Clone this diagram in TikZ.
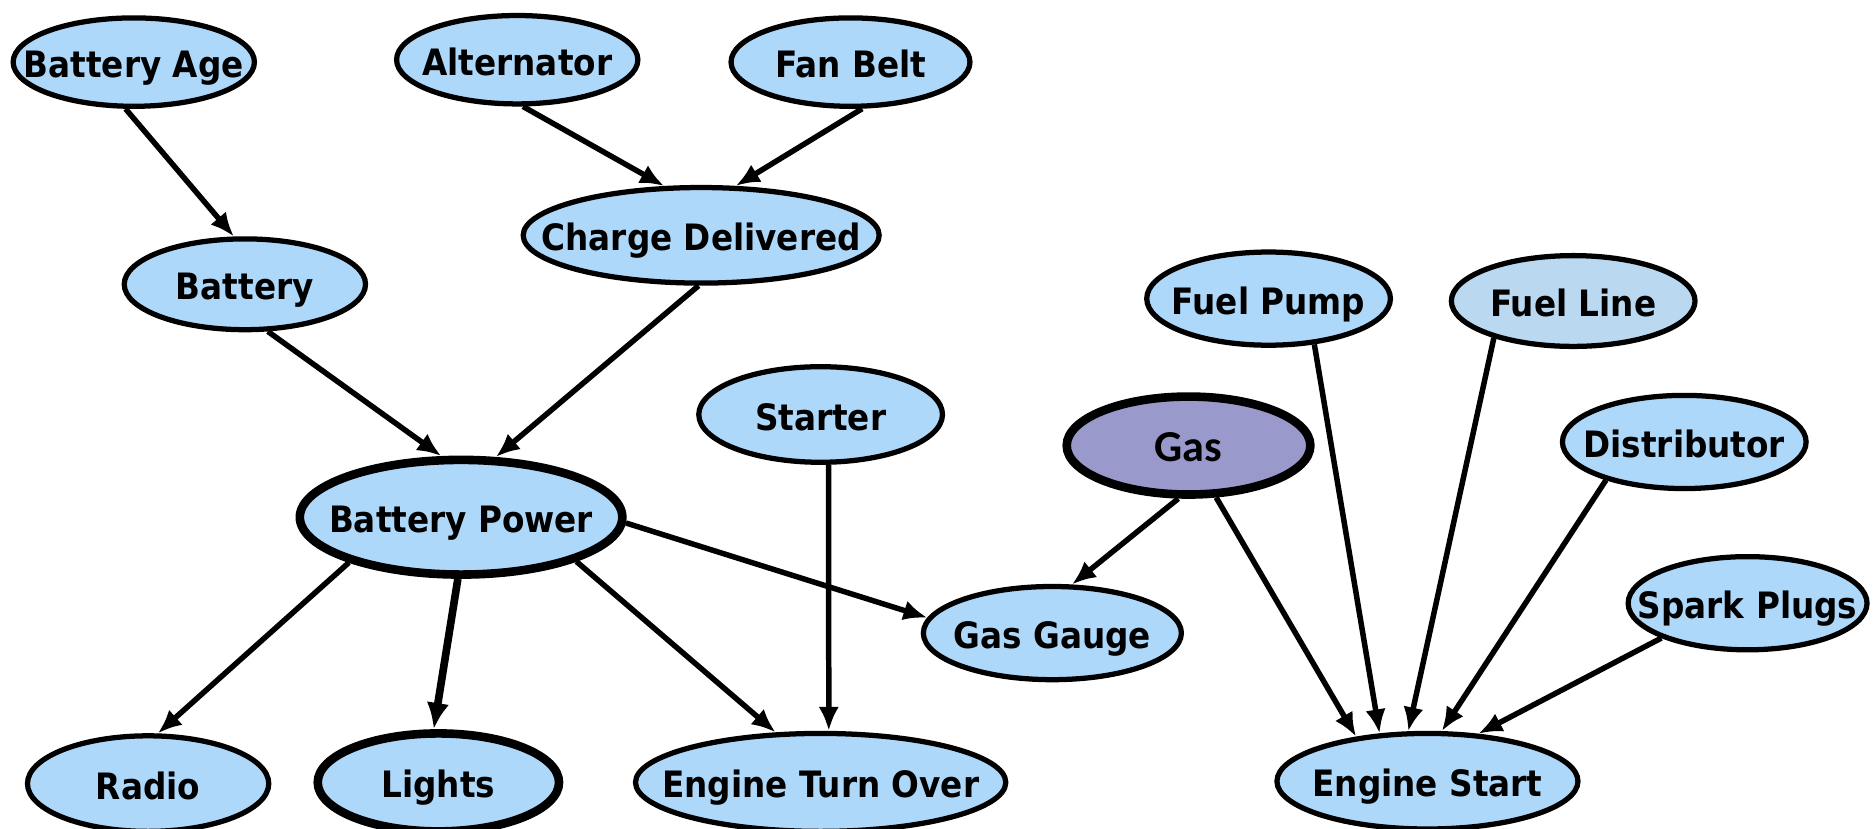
\documentclass[tikz,border=0pt]{standalone}
\usepackage{fontspec}
\usetikzlibrary{shapes.geometric,arrows.meta}
\newfontfamily\nodefont{DejaVu Sans}[FakeStretch=0.9]
\newfontfamily\gasfont{Carlito}
\definecolor{nodeblue}{RGB}{174,216,250}
\definecolor{lineblue}{RGB}{186,217,240}
\definecolor{gasviolet}{RGB}{153,153,204}
\newcommand\lbl[1]{\makebox[0pt]{#1}}
\tikzset{
  var/.style 2 args={ellipse, draw=black, line width=2.2pt, fill=nodeblue,
    inner sep=0pt, minimum width=#1*0.5pt, minimum height=#2*0.5pt,
    text height=13pt, text depth=0pt,
    font=\nodefont\bfseries\fontsize{15.2}{17}\selectfont},
  heavy/.style={line width=3.6pt},
  conn/.style={-{Latex[length=10pt,width=8.5pt]}, line width=2.3pt},
  strong/.style={-{Latex[length=11pt,width=9.5pt]}, line width=3.2pt}
}
\begin{document}
\begin{tikzpicture}[x=0.5pt,y=-0.5pt]
\useasboundingbox (0,0) rectangle (1568,694);
% upper row
\node[var={202}{74}] (ba) at (112,52) {\lbl{Battery Age}};
\node[var={202}{74}] (alt) at (433,50) {\lbl{Alternator}};
\node[var={200}{74}] (fb) at (712,52) {\lbl{Fan Belt}};
\node[var={298}{80}] (cd) at (587,197) {\lbl{Charge Delivered}};
\node[var={202}{76}] (bat) at (205,238) {\lbl{Battery}};
\node[var={204}{78}] (fp) at (1062,250) {\lbl{Fuel Pump}};
\node[var={204}{76}, fill=lineblue] (fl) at (1317,252) {\lbl{Fuel Line}};
% middle row
\node[var={204}{80}] (st) at (687,347) {\lbl{Starter}};
\node[var={204}{82}, heavy, fill=gasviolet, font=\gasfont\bfseries\fontsize{18.5}{20}\selectfont] (gas) at (995,373) {\lbl{Gas}};
\node[var={204}{78}] (dist) at (1410,370) {\lbl{Distributor}};
\node[var={270}{96}, heavy] (bp) at (386,433) {\lbl{Battery Power}};
\node[var={216}{78}] (gg) at (881,530) {\lbl{Gas Gauge}};
\node[var={200}{78}] (sp) at (1463,505) {\lbl{Spark Plugs}};
% bottom row
\node[var={202}{80}] (radio) at (124,656) {\lbl{Radio}};
\node[var={202}{82}, heavy] (lights) at (367,655) {\lbl{Lights}};
\node[var={310}{82}] (eto) at (687,655) {\lbl{Engine Turn Over}};
\node[var={252}{80}] (es) at (1195,654) {\lbl{Engine Start}};
% connectors
\draw[conn] (ba.-100) -- (bat.103);
\draw[conn] (alt.-83) -- (cd.127);
\draw[conn] (fb.-76) -- (cd.55);
\draw[conn] (bat.-64) -- (bp.108);
\draw[conn] (cd.-93) -- (bp.60);
\draw[conn] (st.-81.5) -- (eto.81.5);
\draw[conn] (bp.-158) -- (radio.79);
\draw[strong] (bp.-93.5) -- (lights.95);
\draw[conn] (bp.-21.5) -- (eto.132);
\draw[conn] (bp.-2) -- (gg.173.5);
\draw[conn] (gas.-101) -- (gg.68);
\draw[conn] (gas.-62) -- (es.148.5);
\draw[conn] (fp.-45) -- (es.135.5);
\draw[conn] (fl.-155) -- (es.111);
\draw[conn] (dist.-154) -- (es.74.5);
\draw[conn] (sp.-158) -- (es.43);
\end{tikzpicture}
\end{document}
